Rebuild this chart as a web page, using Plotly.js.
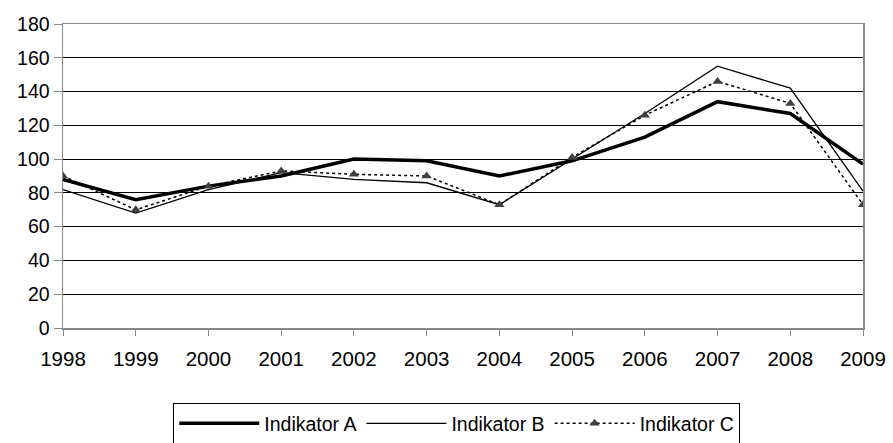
<!DOCTYPE html>
<html><head><meta charset="utf-8">
<script src="https://cdn.plot.ly/plotly-3.0.1.min.js"></script>
<style>html,body{margin:0;padding:0;background:#fff}#chart{width:893px;height:443px}</style>
</head><body><div id="chart"></div>
<script>
var years = [1998,1999,2000,2001,2002,2003,2004,2005,2006,2007,2008,2009];
var indikatorA = [88,76,84,90,100,99,90,99,113,134,127,97];
var indikatorB = [82,68,82,92,88,86,73,100,127,155,142,81];
var indikatorC = [90,70,84,93,91,90,73,101,126,146,133,73];
var seriesNames = ['Indikator A','Indikator B','Indikator C'];

var traces = [
  {x: years, y: indikatorA, name: seriesNames[0], type:'scatter', mode:'lines',
   line:{color:'#000', width:3.5}},
  {x: years, y: indikatorB, name: seriesNames[1], type:'scatter', mode:'lines',
   line:{color:'#000', width:1.3}},
  {x: years, y: indikatorC, name: seriesNames[2], type:'scatter', mode:'lines+markers',
   line:{color:'#000', width:1.5, dash:'dot'},
   marker:{symbol:'triangle-up', size:9, color:'#404040'}}
];

var layout = {
  width:893, height:443,
  margin:{l:63, r:30, t:24, b:115, autoexpand:false},
  paper_bgcolor:'#fff', plot_bgcolor:'#fff',
  font:{family:'Liberation Sans, Arial, sans-serif', size:18, color:'#000'},
  showlegend:true,
  legend:{orientation:'h', xref:'container', x:0.5115, xanchor:'center',
    yref:'container', y:0.090, yanchor:'top',
    bordercolor:'#000', borderwidth:1, font:{size:19.5}, itemwidth:80},
  xaxis:{range:[1998,2009], tickmode:'array', tickvals:years, ticktext:years.map(String),
    showgrid:false, zeroline:false, showline:true, linecolor:'#888', linewidth:1.5, mirror:true,
    ticks:'outside', ticklen:6, tickcolor:'#888', tickfont:{size:20.5}, ticklabelstandoff:6},
  yaxis:{range:[0,180], dtick:20, showgrid:true, gridcolor:'#000', gridwidth:1,
    zeroline:false, showline:true, linecolor:'#888', linewidth:1.5, mirror:true,
    ticks:'outside', ticklen:8, tickcolor:'#888', tickfont:{size:19.5}}
};
Plotly.newPlot('chart', traces, layout, {displayModeBar:false, staticPlot:true});
</script>
</body></html>
